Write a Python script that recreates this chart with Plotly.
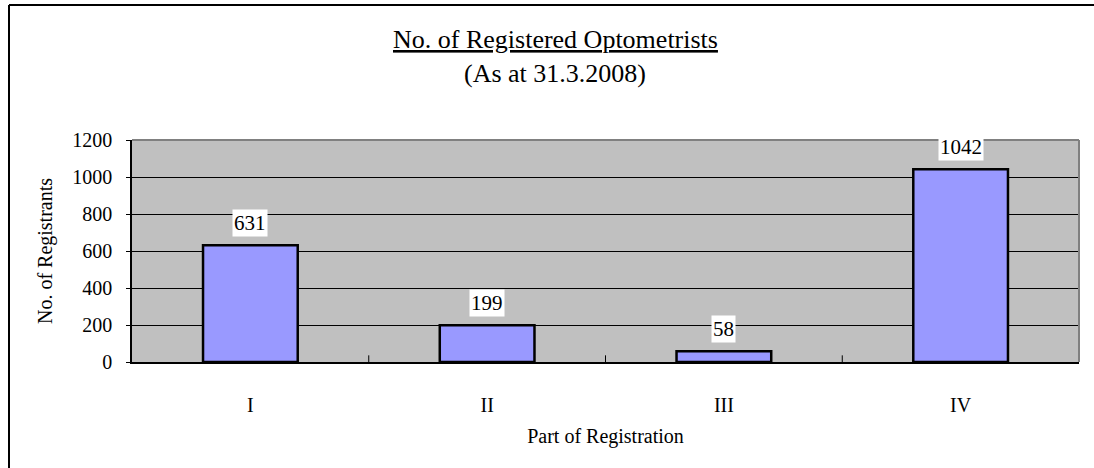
import plotly.graph_objects as go

categories = ["I", "II", "III", "IV"]
registrants = [631, 199, 58, 1042]
y_ticks = [0, 200, 400, 600, 800, 1000, 1200]

FONT = "Liberation Serif"

# plot area in page pixels: x 132..1079, y 140..362
L, R, T, B = 132, 1079, 140, 362
W, H = 1094, 468
PW, PH = R - L, B - T


def px(xp):
    return (xp - L) / PW


def py(yp):
    return (B - yp) / PH


fig = go.Figure()
fig.add_trace(go.Bar(
    x=categories, y=registrants, width=0.4,
    marker=dict(color="#9999FF", line=dict(color="black", width=2.5)),
    hoverinfo="skip",
))

for c, v in zip(categories, registrants):
    fig.add_annotation(
        x=c, y=v, text=str(v), showarrow=False, yshift=22,
        bgcolor="white", font=dict(family=FONT, size=21, color="black"),
        borderpad=1,
    )

fig.add_annotation(
    xref="paper", yref="paper", x=px(555), y=py(39), xanchor="center", yanchor="middle",
    text="<span style='text-decoration:underline'>No. of Registered Optometrists</span>",
    showarrow=False, font=dict(family=FONT, size=26, color="black"),
)
fig.add_annotation(
    xref="paper", yref="paper", x=px(555), y=py(74), xanchor="center", yanchor="middle",
    text="(As at 31.3.2008)",
    showarrow=False, font=dict(family=FONT, size=26, color="black"),
)

fig.update_layout(
    width=W, height=H,
    margin=dict(l=L, r=W - R, t=T, b=H - B),
    paper_bgcolor="white", plot_bgcolor="#C0C0C0",
    showlegend=False,
    font=dict(family=FONT, color="black", size=20),
)
fig.update_xaxes(
    showline=True, linecolor="black", linewidth=1.5,
    ticks="", showgrid=False, tickfont=dict(size=20),
    ticklabelstandoff=24,
    title=dict(text="Part of Registration", font=dict(size=20), standoff=14),
    fixedrange=True,
)
fig.update_yaxes(
    range=[0, 1200], tickvals=y_ticks, ticktext=[str(t) for t in y_ticks],
    showline=True, linecolor="black", linewidth=1.5,
    ticks="outside", ticklen=4, tickcolor="black",
    showgrid=True, gridcolor="black", gridwidth=1,
    zeroline=False, tickfont=dict(size=20),
    ticklabelstandoff=10,
    title=dict(text="No. of Registrants", font=dict(size=20), standoff=14),
    fixedrange=True,
)
# category boundary ticks (inside, upward) along x axis
for b in [0.5, 1.5, 2.5]:
    fig.add_shape(type="line", xref="x", yref="paper", x0=b, x1=b, y0=0, y1=0.03,
                  line=dict(color="black", width=1))
# top/right plot border (gray)
fig.add_shape(type="line", xref="paper", yref="paper", x0=0, x1=1, y0=1, y1=1,
              line=dict(color="#808080", width=2))
fig.add_shape(type="line", xref="paper", yref="paper", x0=1, x1=1, y0=0, y1=1,
              line=dict(color="#808080", width=2))
# outer chart border (left and top visible)
fig.add_shape(type="line", xref="paper", yref="paper",
              x0=px(9), x1=px(9), y0=py(480), y1=py(5),
              line=dict(color="black", width=2))
fig.add_shape(type="line", xref="paper", yref="paper",
              x0=px(9), x1=px(1110), y0=py(5), y1=py(5),
              line=dict(color="black", width=2))

fig.write_html("out.html", config={"displayModeBar": False},
               post_script="document.body.style.margin='0';")
